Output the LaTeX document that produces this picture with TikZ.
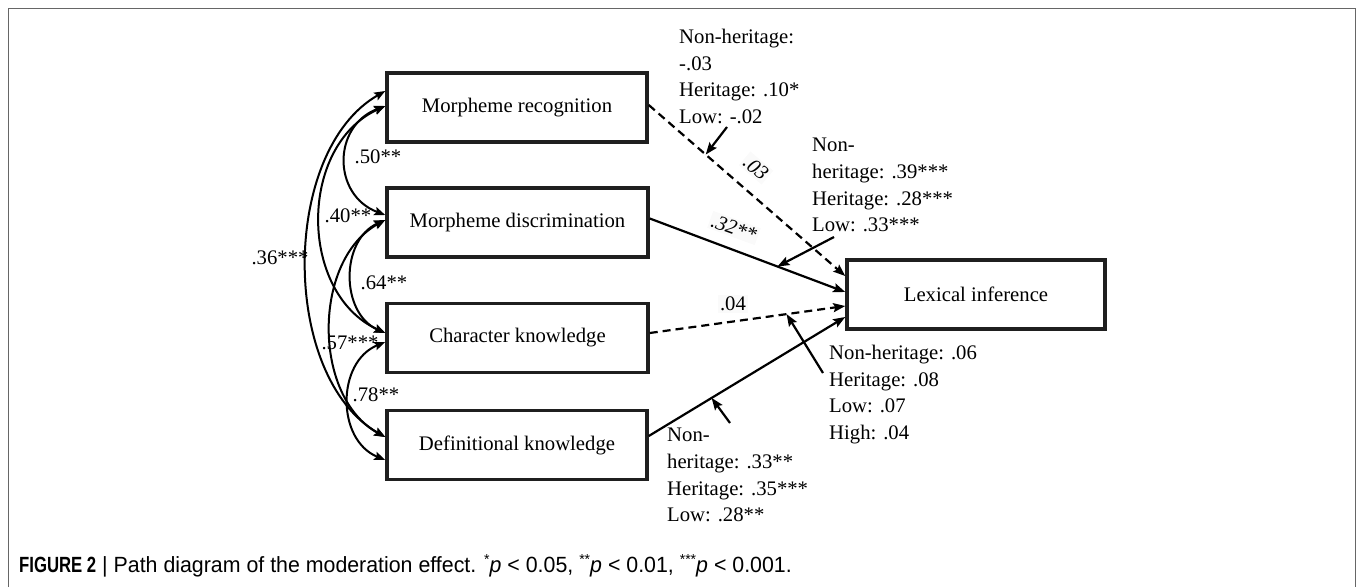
\documentclass[tikz,border=0pt]{standalone}
\usepackage{fontspec}
\setmainfont{Liberation Serif}
\newfontfamily\capfont[FakeStretch=0.97]{Liberation Sans}
\newfontfamily\capbold[FakeStretch=0.76]{Liberation Sans}
\usetikzlibrary{arrows.meta}
\newcommand{\supst}[1]{\raisebox{0.38em}{\fontsize{14.5}{14.5}\selectfont #1}}
\begin{document}
\begin{tikzpicture}[x=1pt,y=-1pt,
  font=\fontsize{20.7}{26.7}\selectfont,
  box/.style={draw=black!88, line width=3.5pt, inner sep=0pt, minimum height=69pt},
  conn/.style={line width=2.2pt, -{Stealth[length=12pt,width=9pt,inset=2pt]}},
  dashconn/.style={conn, dash pattern=on 8pt off 5pt},
  cov/.style={line width=2pt, {Stealth[length=11pt,width=8.5pt,inset=2pt]}-{Stealth[length=11pt,width=8.5pt,inset=2pt]}},
  mod/.style={line width=2.2pt, -{Stealth[length=12pt,width=9pt,inset=2pt]}},
  lab/.style={inner sep=1pt},
  pathlab/.style={inner sep=2pt, fill=black!2, font=\fontsize{20.7}{26.7}\selectfont\itshape},
  modlab/.style={anchor=north west, align=left, inner sep=0pt}
]
\useasboundingbox (0,0) rectangle (1357,587);
\draw[black!60, line width=1.5pt] (8.5,587) -- (8.5,8.5) -- (1355.5,8.5) -- (1355.5,587);

% boxes
\node[box, minimum width=260pt] (MR) at (517,107.5) {Morpheme recognition};
\node[box, minimum width=261pt] (MD) at (517.5,222.5) {Morpheme discrimination};
\node[box, minimum width=261pt] (CK) at (517.5,338) {Character knowledge};
\node[box, minimum width=260pt] (DK) at (517,445) {Definitional knowledge};
\node[box, minimum width=258pt] (LI) at (976,294.5) {Lexical inference};

% path labels (behind lines)
\node[pathlab, rotate=-40] (l03) at (756,168) {.03};
\node[pathlab, rotate=-20] (l32) at (734,228) {.32**};
\node[pathlab, font=\fontsize{20.7}{26.7}\selectfont] (l04) at (733,304) {.04};

% main paths
\draw[dashconn] ([yshift=2.5pt]MR.east) -- coordinate[pos=0.29] (m1) ([yshift=18.5pt]LI.west);
\draw[conn] ([yshift=4pt]MD.east) -- coordinate[pos=0.653] (m2) ([yshift=2.5pt]LI.west);
\draw[dashconn] ([yshift=5pt]CK.east) -- coordinate[pos=0.70] (m3) ([yshift=-11.5pt]LI.west);
\draw[conn] ([yshift=9pt]DK.east) -- coordinate[pos=0.32] (m4) ([yshift=-22.5pt]LI.west);

% moderator labels
\node[modlab] (n1) at (679,29) {Non-heritage:\\-.03\\Heritage: .10*\\Low: -.02};
\node[modlab] (n2) at (812,138) {Non-\\heritage: .39***\\Heritage: .28***\\Low: .33***};
\node[modlab] (n3) at (829,345) {Non-heritage: .06\\Heritage: .08\\Low: .07\\High: .04};
\node[modlab] (n4) at (667,428) {Non-\\heritage: .33**\\Heritage: .35***\\Low: .28**};

\coordinate (s1) at (727,127);
\coordinate (s2) at (834,237);
\coordinate (s3) at (823,373);
\coordinate (s4) at (730,423);
\draw[mod] (s1) -- (m1);
\draw[mod] (s2) -- (m2);
\draw[mod] (s3) -- (m3);
\draw[mod] (s4) -- (m4);

% covariances
\draw[cov] ([yshift=16.5pt]MR.west) .. controls +(-105,60) and +(-105,-60) .. ([yshift=8pt]DK.west);
\draw[cov] ([yshift=1.5pt]MR.west) .. controls +(-87,40) and +(-87,-40) .. ([yshift=5pt]CK.west);
\draw[cov] ([yshift=1.5pt]MR.west) .. controls +(-53,20) and +(-53,-20) .. ([yshift=7.5pt]MD.west);
\draw[cov] ([yshift=2.5pt]MD.west) .. controls +(-45,20) and +(-45,-20) .. ([yshift=5pt]CK.west);
\draw[cov] ([yshift=2.5pt]MD.west) .. controls +(-73,40) and +(-73,-40) .. ([yshift=8pt]DK.west);
\draw[cov] ([yshift=-4pt]CK.west) .. controls +(-49,20) and +(-49,-20) .. ([yshift=-15pt]DK.west);

\node[lab] (c50) at (378,157) {.50**};
\node[lab] (c40) at (348,216) {.40**};
\node[lab] (c36) at (280,258) {.36***};
\node[lab] (c64) at (384,283) {.64**};
\node[lab] (c57) at (350,343) {.57***};
\node[lab] (c78) at (376,395) {.78**};

% caption
\node[anchor=west, inner sep=0pt, font=\capfont\fontsize{22}{25}\selectfont] (cap) at (19,566)
  {{\capbold\bfseries FIGURE 2} | Path diagram of the moderation effect. \supst{*}\textit{p} < 0.05, \supst{**}\textit{p} < 0.01, \supst{***}\textit{p} < 0.001.};
\end{tikzpicture}
\end{document}
